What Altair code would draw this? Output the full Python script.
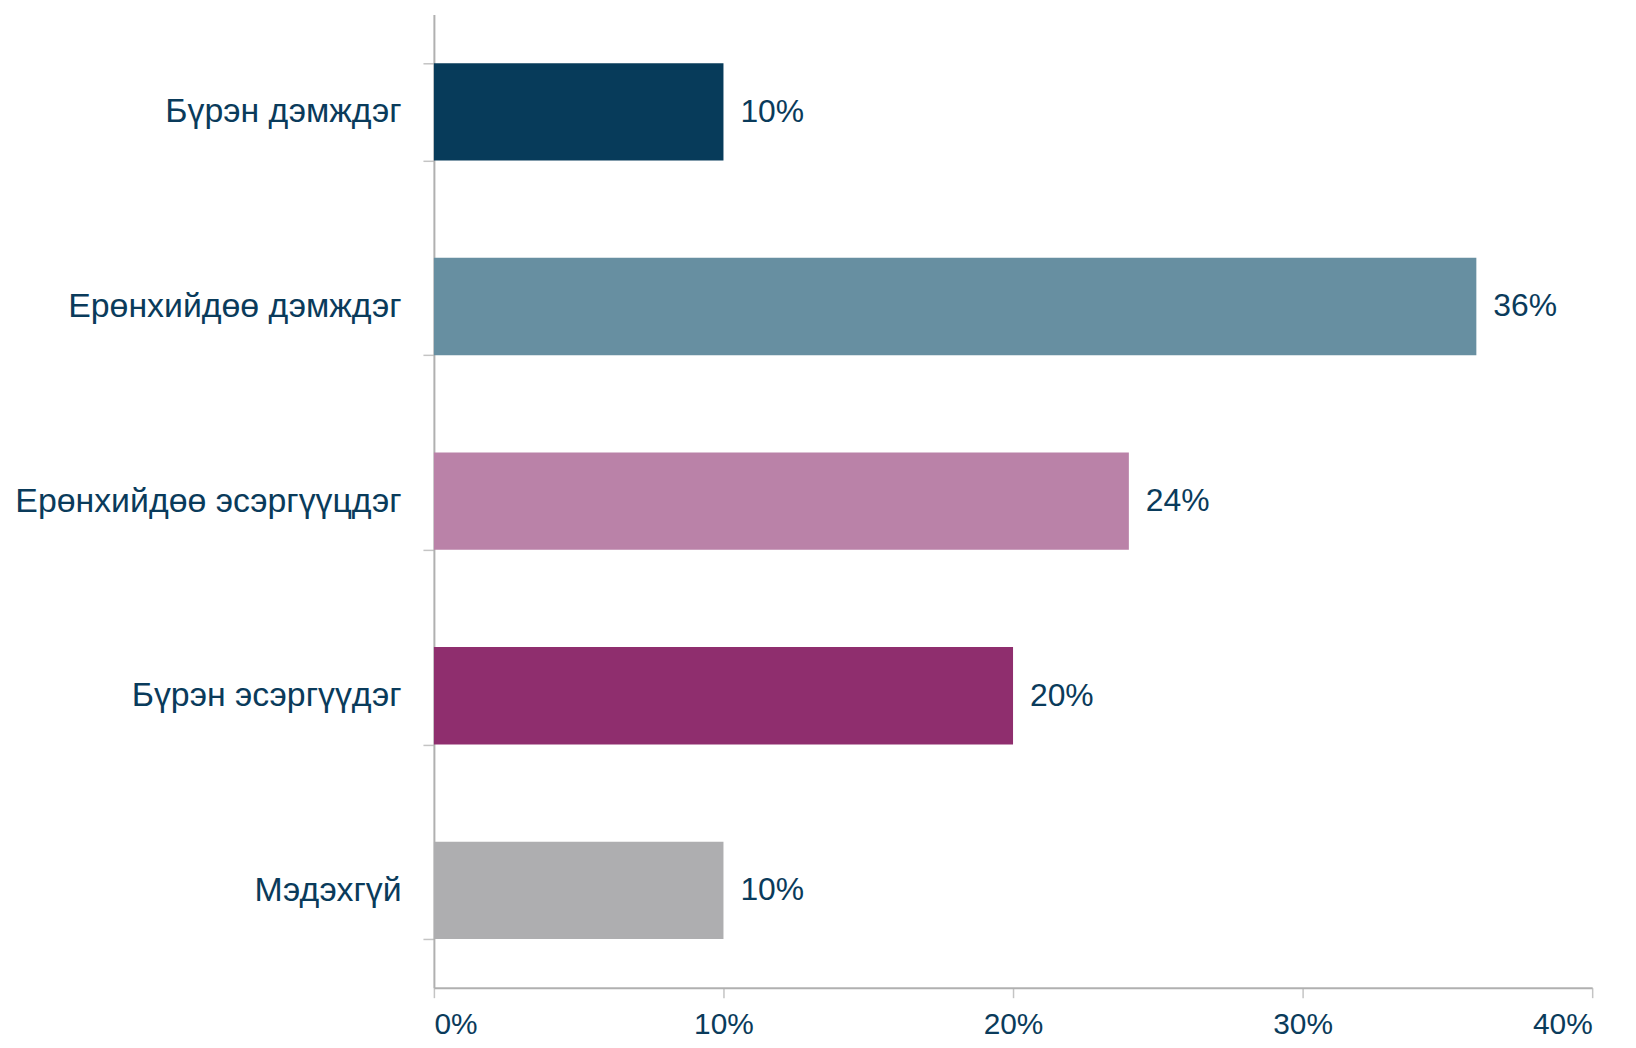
import altair as alt
import pandas as pd

categories = ["Бүрэн дэмждэг", "Ерөнхийдөө дэмждэг", "Ерөнхийдөө эсэргүүцдэг",
              "Бүрэн эсэргүүдэг", "Мэдэхгүй"]
values = [0.10, 0.36, 0.24, 0.20, 0.10]
value_labels = ["10%", "36%", "24%", "20%", "10%"]
colors = ["#073B5A", "#678FA1", "#BA82A8", "#8F2E6E", "#AEAEB0"]
x_ticks = [0, 0.1, 0.2, 0.3, 0.4]

df = pd.DataFrame({"cat": categories, "val": values, "lab": value_labels})

TEXT = "#0A3B5B"
FONT = "Liberation Sans"

y_enc = alt.Y("cat:N", sort=categories, title=None,
              scale=alt.Scale(paddingInner=0.5, paddingOuter=0.25),
              axis=alt.Axis(labelFont=FONT, labelFontSize=34, labelColor=TEXT,
                            labelPadding=22, tickSize=11, tickColor="#C4C4C4",
                            tickWidth=1.5, tickBand="extent",
                            domainColor="#B0B0B0", domainWidth=2,
                            labelLimit=600))

bars = alt.Chart(df).mark_bar().encode(
    y=y_enc,
    x=alt.X("val:Q", title=None,
            scale=alt.Scale(domain=[0, 0.4], nice=False),
            axis=alt.Axis(values=x_ticks, format=".0%", grid=False,
                          labelFont=FONT, labelFontSize=30, labelColor=TEXT,
                          labelPadding=12, tickSize=10, tickColor="#C4C4C4",
                          tickWidth=1.5, domainColor="#B0B0B0", domainWidth=2)),
    color=alt.Color("cat:N", scale=alt.Scale(domain=categories, range=colors),
                    legend=None),
)

labels = alt.Chart(df).mark_text(align="left", baseline="middle", dx=17,
                                 font=FONT, fontSize=32, color=TEXT).encode(
    y=alt.Y("cat:N", sort=categories),
    x=alt.X("val:Q"),
    text="lab:N",
)

chart = alt.layer(bars, labels).properties(
    width=1164, height=978,
    autosize=alt.AutoSizeParams(type="none"),
    padding={"left": 428, "top": 4, "right": 36, "bottom": 56},
).configure_view(stroke=None)

chart.save("out.html", embed_options={"renderer": "svg", "actions": False})
